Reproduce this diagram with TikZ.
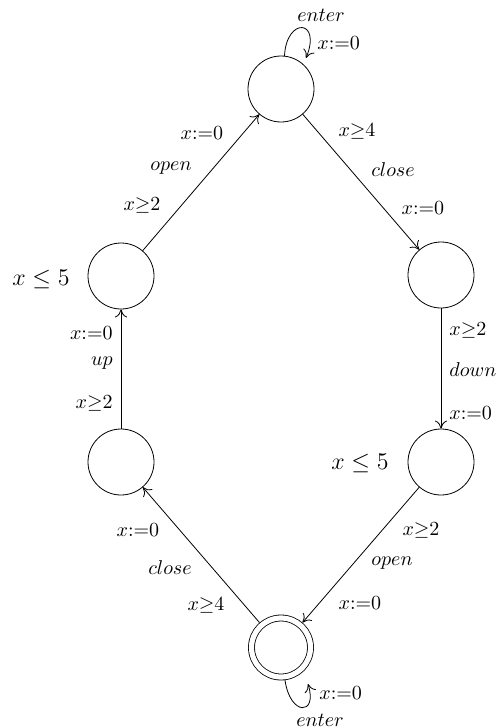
\documentclass[tikz,border=0pt]{standalone}
\usepackage{amsmath}
\usepackage{amssymb}
\usepackage{tikz}
\usetikzlibrary{arrows.meta, positioning}

\begin{document}
\begin{tikzpicture}[
  x=0.5pt, y=-0.5pt,
  loc/.style={circle, draw, minimum size=33pt, inner sep=0pt},
  initloc/.style={circle, draw, double, double distance=2.6pt,
                  minimum size=29.5pt, inner sep=0pt, outer sep=1.7pt},
  lbl/.style={inner sep=0pt},
  inv/.style={font=\large, inner sep=0pt},
  >={Computer Modern Rightarrow[length=4pt, width=6pt]}
]
\useasboundingbox (0,0) rectangle (496,728);
% locations
\node[loc] (qtop) at (281,89) {};
\node[loc] (qleft) at (121,276) {};
\node[loc] (qright) at (441,275) {};
\node[loc] (qlow) at (121,462) {};
\node[loc] (qdown) at (441,462) {};
\node[initloc] (qinit) at (281,647.5) {};
\coordinate (ltop) at (306,58);
\coordinate (lbot) at (308,684);
% invariants
\node[inv] (invleft) at (41,279) {$x \leq 5$};
\node[inv] (invdown) at (360,463) {$x \leq 5$};
% transitions
\draw[->] (qleft) -- (qtop);
\draw[->] (qtop) -- (qright);
\draw[->] (qright) -- (qdown);
\draw[->] (qdown) -- (qinit);
\draw[->] (qinit) -- (qlow);
\draw[->] (qlow) -- (qleft);
\draw[->] (qtop.84) .. controls +(2,-39) and +(16,-39) .. (ltop);
\draw[->] (qinit.-83) .. controls +(5,36) and +(10,32) .. (lbot);
% labels: qleft -> qtop
\node[lbl] (g1) at (142,205) {$x{\geq}2$};
\node[lbl] (a1) at (171,168) {$open$};
\node[lbl] (r1) at (202,133) {$x{:=}0$};
% qtop -> qright
\node[lbl] (g2) at (357,131) {$x{\geq}4$};
\node[lbl] (a2) at (393,170) {$close$};
\node[lbl] (r2) at (423,208) {$x{:=}0$};
% qright -> qdown
\node[lbl, anchor=west] (g3) at (449,330) {$x{\geq}2$};
\node[lbl, anchor=west] (a3) at (449,370) {$down$};
\node[lbl, anchor=west] (r3) at (449,413) {$x{:=}0$};
% qdown -> qinit
\node[lbl] (g4) at (421,530) {$x{\geq}2$};
\node[lbl] (a4) at (392,563) {$open$};
\node[lbl] (r4) at (360,603) {$x{:=}0$};
% qinit -> qlow
\node[lbl] (g5) at (206,605) {$x{\geq}4$};
\node[lbl] (a5) at (170,568) {$close$};
\node[lbl] (r5) at (138,530) {$x{:=}0$};
% qlow -> qleft
\node[lbl, anchor=east] (g6) at (113,403) {$x{\geq}2$};
\node[lbl, anchor=east] (a6) at (113,363) {$up$};
\node[lbl, anchor=east] (r6) at (113,333) {$x{:=}0$};
% self loops
\node[lbl] (a7) at (321,15) {$enter$};
\node[lbl, anchor=west] (r7) at (317,43) {$x{:=}0$};
\node[lbl, anchor=west] (r8) at (319,693) {$x{:=}0$};
\node[lbl] (a8) at (320,720) {$enter$};
\end{tikzpicture}
\end{document}
